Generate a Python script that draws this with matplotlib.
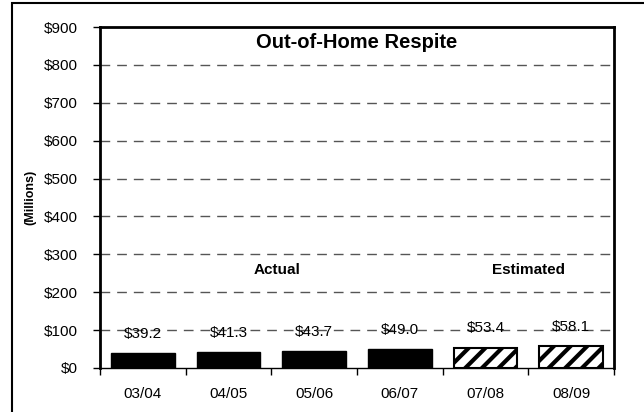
import matplotlib
matplotlib.use("Agg")
import matplotlib.pyplot as plt
from matplotlib.patches import Rectangle

plt.rcParams["font.family"] = ["Liberation Sans", "DejaVu Sans"]
plt.rcParams["hatch.linewidth"] = 3

years = ["03/04", "04/05", "05/06", "06/07", "07/08", "08/09"]
spending = [39.2, 41.3, 43.7, 49.0, 53.4, 58.1]
estimated = [False, False, False, False, True, True]
y_ticks = [0, 100, 200, 300, 400, 500, 600, 700, 800, 900]

fig = plt.figure(figsize=(6.44, 4.12), dpi=100)
ax = fig.add_axes([100 / 644, 1 - 368 / 412, 514 / 644, 341 / 412])

# outer frame around the whole chart (open on right and bottom)
fig.patches.append(Rectangle((12 / 644, -0.2), 1.2, 1 - 3 / 412 + 0.2,
                             transform=fig.transFigure, fill=False,
                             edgecolor="black", linewidth=1.5))

x = list(range(len(years)))
for i, (val, est) in enumerate(zip(spending, estimated)):
    if est:
        ax.bar(i, val, width=0.74, color="white", edgecolor="black",
               linewidth=1.5, hatch="//", zorder=3)
    else:
        ax.bar(i, val, width=0.74, color="black", edgecolor="black",
               linewidth=1, zorder=3)
    ax.annotate(f"${val:.1f}", (i, val), xytext=(0, 14),
                textcoords="offset points", ha="center", va="center",
                fontsize=11, zorder=4)

ax.set_xlim(-0.5, 5.5)
ax.set_ylim(0, 900)
ax.set_yticks(y_ticks)
ax.set_yticklabels([f"${v}" for v in y_ticks], fontsize=11)
ax.set_xticks(x)
ax.set_xticklabels(years, fontsize=11)
ax.set_xticks([i - 0.5 for i in range(len(years) + 1)], minor=True)
ax.tick_params(axis="x", which="major", length=0, pad=14)
ax.tick_params(axis="x", which="minor", length=5, width=1, direction="out")
ax.tick_params(axis="y", length=5, width=1, direction="out", pad=11)

for v in y_ticks[1:-1]:
    ax.axhline(v, color="#555555", linewidth=1, linestyle=(0, (7, 5)), zorder=1)

for side in ["top", "left", "right"]:
    ax.spines[side].set_linewidth(2)
ax.spines["bottom"].set_linewidth(1)

ax.text(0.5, 0.955, "Out-of-Home Respite", transform=ax.transAxes,
        ha="center", va="center", fontsize=14.5, fontweight="bold")
ax.text(1.57, 259, "Actual", ha="center", va="center", fontsize=11,
        fontweight="bold")
ax.text(4.5, 259, "Estimated", ha="center", va="center", fontsize=11,
        fontweight="bold")
fig.text(30 / 644, 1 - 197 / 412, "(Millions)", rotation=90, ha="center",
         va="center", fontsize=9, fontweight="bold")

fig.savefig("out.png", dpi=100)
